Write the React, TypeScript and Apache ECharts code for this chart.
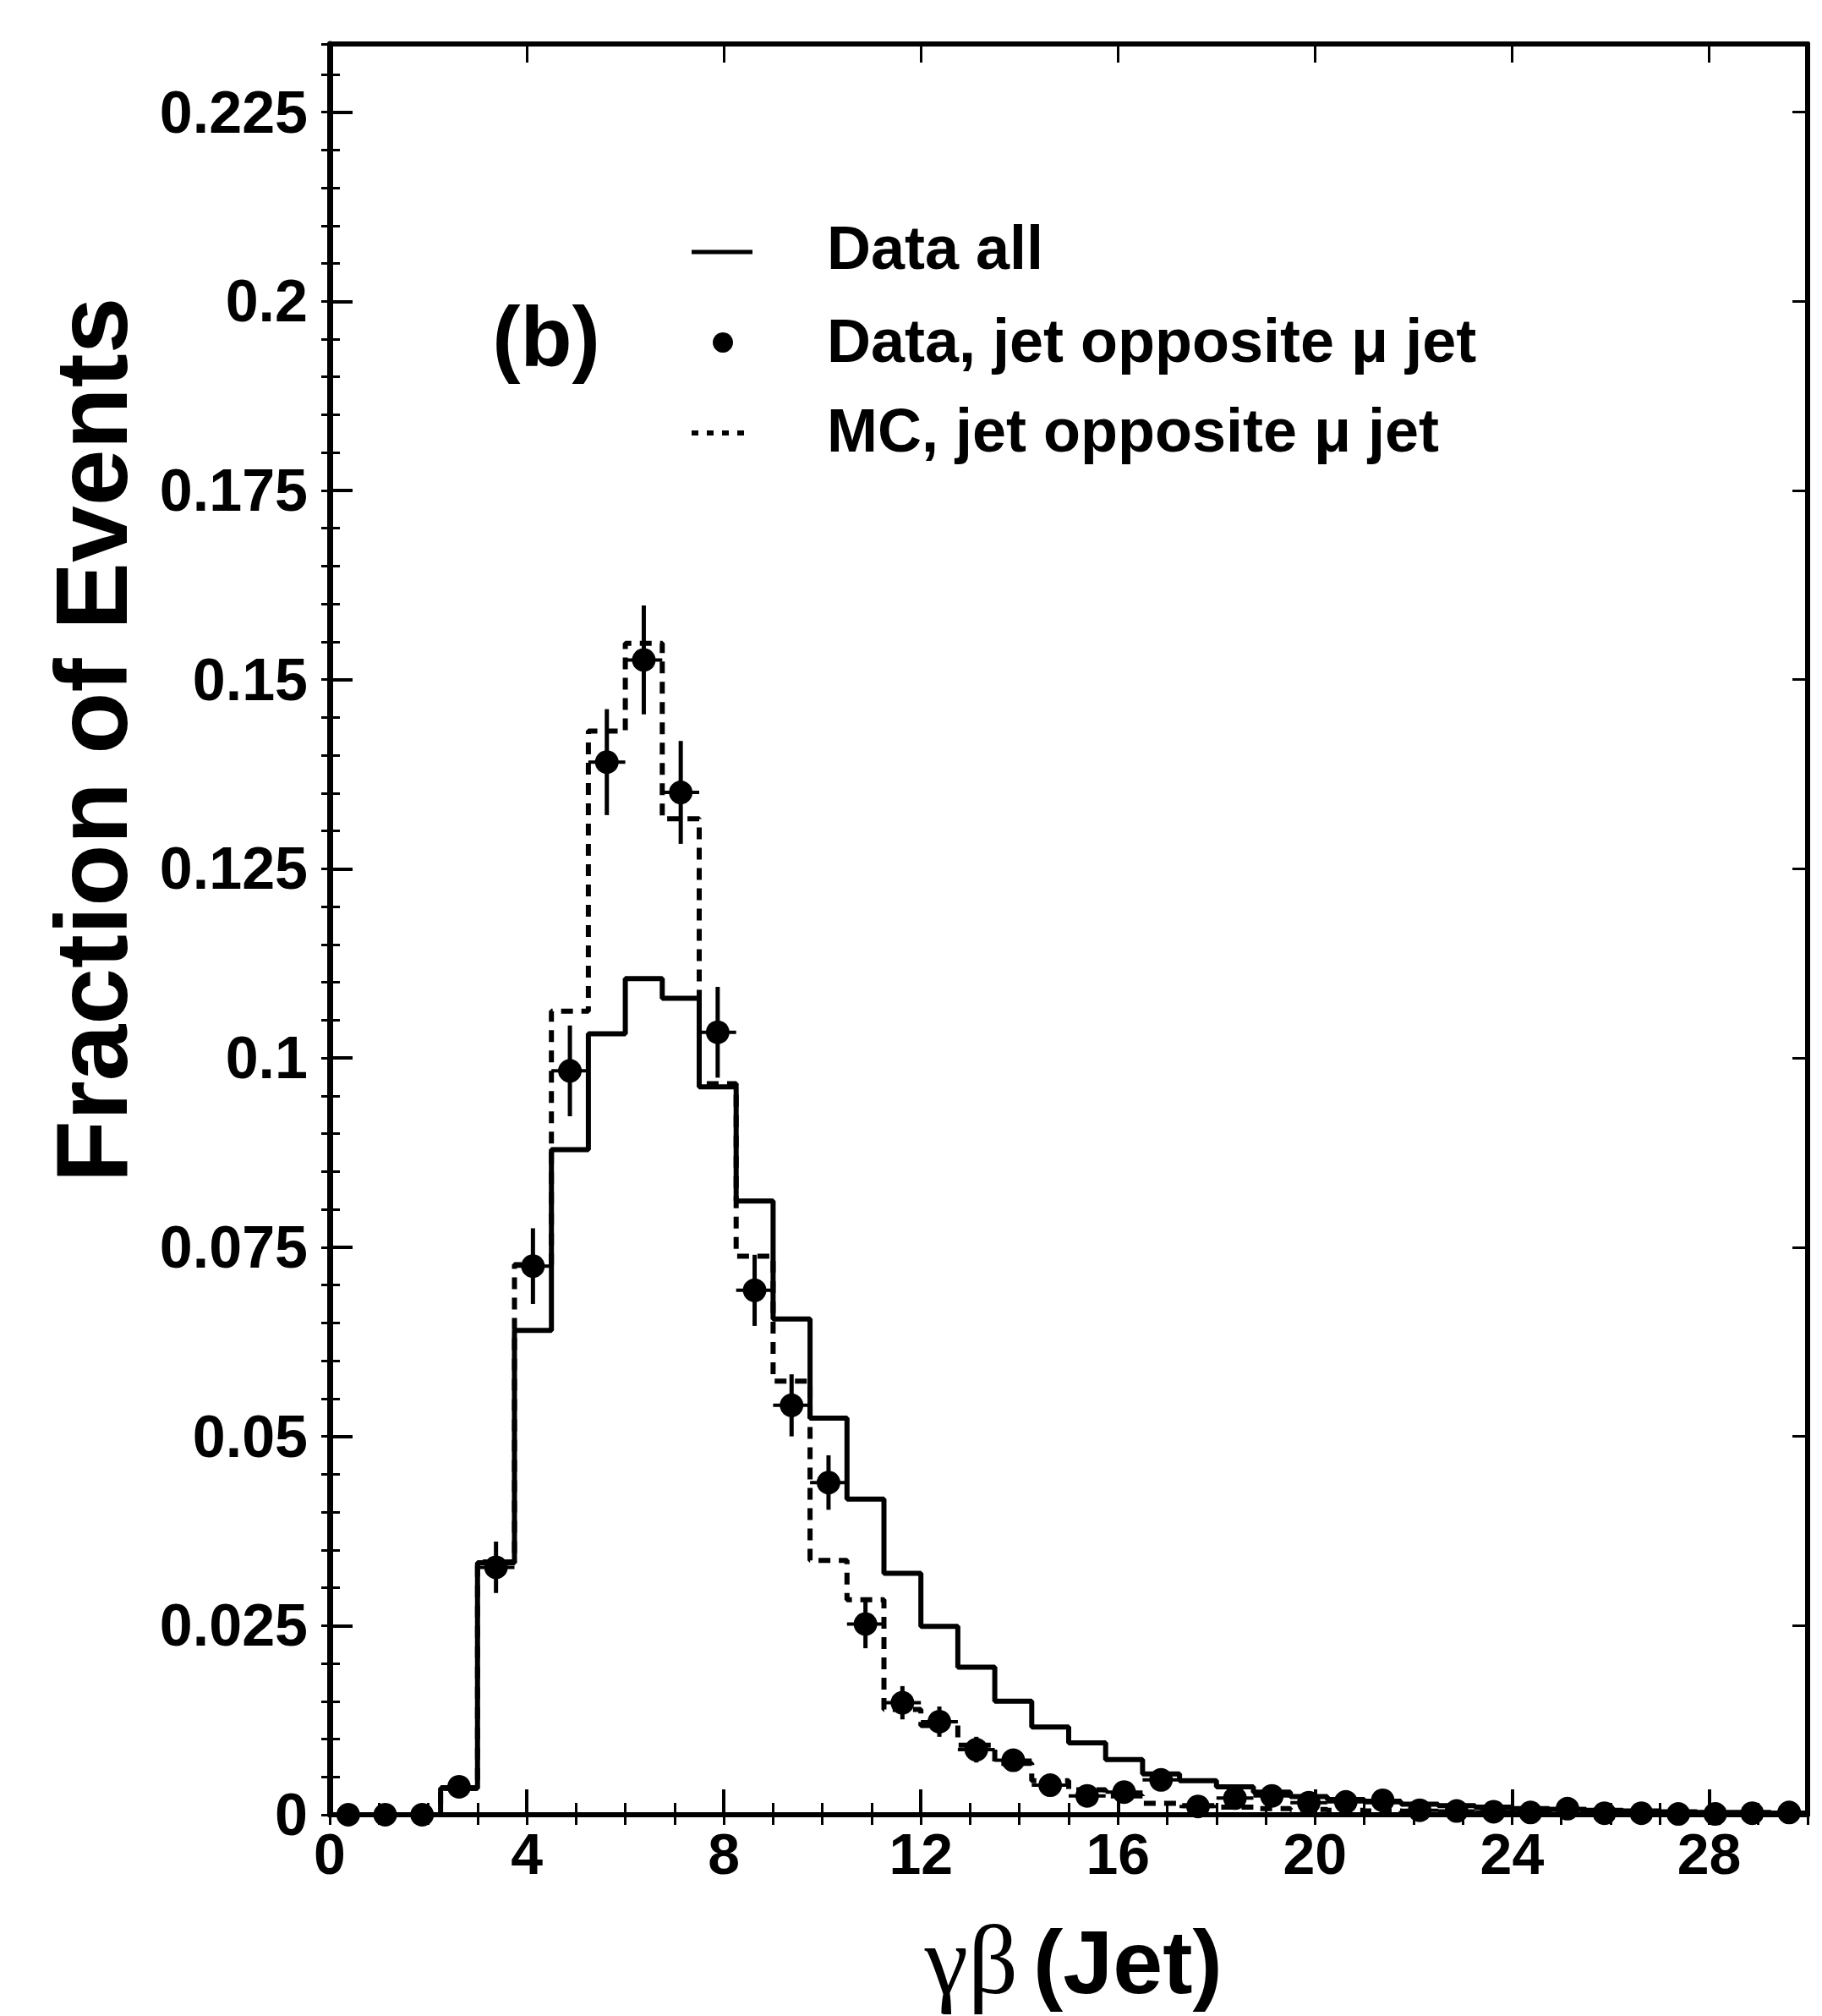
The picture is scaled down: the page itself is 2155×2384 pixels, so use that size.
import React, { useEffect, useRef } from "react";
import * as echarts from "echarts";

// ---- data (fraction of events per bin of width 0.75 in γβ) ----
const BIN_WIDTH = 0.75;
const X_MIN = 0;
const X_MAX = 30;
const Y_MIN = 0;
const Y_MAX = 0.234;
const X_MAJOR = 4;
const X_MINOR = 1;
const Y_MAJOR = 0.025;
const Y_MINOR = 0.005;

// solid histogram: Data all
const DATA_ALL = [
  0, 0, 0, 0.0035, 0.0333, 0.064, 0.0879, 0.1032, 0.1105, 0.1079,
  0.0962, 0.0811, 0.0655, 0.0524, 0.0417, 0.0319, 0.0249, 0.0195, 0.015, 0.0116,
  0.0095, 0.0073, 0.0054, 0.0045, 0.0037, 0.003, 0.0024, 0.002, 0.0017, 0.0014,
  0.0012, 0.001, 0.0008, 0.0007, 0.0006, 0.0005, 0.0004, 0.0003, 0.0003, 0.0002,
];

// dashed histogram: MC, jet opposite mu jet
const MC_OPP = [
  0, 0, 0, 0.0035, 0.0334, 0.0727, 0.1062, 0.1432, 0.1548, 0.1316,
  0.0966, 0.0738, 0.0573, 0.0336, 0.0284, 0.0139, 0.0118, 0.0092, 0.0068, 0.0045,
  0.0033, 0.0025, 0.0015, 0.0012, 0.001, 0.0008, 0.0007, 0.0006, 0.0005, 0.0004,
  0.0003, 0.0003, 0.0002, 0.0002, 0.0002, 0.0001, 0.0001, 0.0001, 0.0001, 0.0001,
];

// points: Data, jet opposite mu jet
const DATA_OPP = [
  0, 0, 0, 0.0037, 0.0327, 0.0725, 0.0983, 0.1391, 0.1526, 0.1351,
  0.1034, 0.0693, 0.0541, 0.0439, 0.0252, 0.0148, 0.0123, 0.0086, 0.0072, 0.0039,
  0.0025, 0.003, 0.0046, 0.0011, 0.0022, 0.0025, 0.0016, 0.0017, 0.0019, 0.0006,
  0.0005, 0.0004, 0.0003, 0.0008, 0.0002, 0.0002, 0.0001, 0.0001, 0.0002, 0.0003,
];
const DATA_OPP_ERR = [
  0, 0, 0, 0.001, 0.0034, 0.005, 0.006, 0.007, 0.0072, 0.0068,
  0.006, 0.0047, 0.0041, 0.0036, 0.0032, 0.0022, 0.002, 0.0017, 0.0015, 0.0011,
  0.0009, 0.001, 0.0012, 0.0006, 0.0008, 0.0009, 0.0007, 0.0007, 0.0008, 0.0004,
  0.0004, 0.0003, 0.0003, 0.0005, 0.0002, 0.0002, 0.0002, 0.0002, 0.0002, 0.0003,
];

const LEGEND_LABELS = ["Data all", "Data, jet opposite \u03bc jet", "MC, jet opposite \u03bc jet"];
const PANEL_LABEL = "(b)";
const Y_TITLE = "Fraction of Events";
const X_TITLE_GREEK = "\u03b3\u03b2";
const X_TITLE_REST = "(Jet)";

const SANS = '"Liberation Sans", Arial, Helvetica, sans-serif';
const SERIF = '"Liberation Serif", "DejaVu Serif", serif';

function histPoints(values: number[]) {
  const pts = values.map((v, i) => [i * BIN_WIDTH, v]);
  pts.push([values.length * BIN_WIDTH, values[values.length - 1]]);
  return pts;
}

function fmtY(v: number) {
  const k = Math.round(v / Y_MAJOR);
  if (Math.abs(v - k * Y_MAJOR) > 1e-9) return "";
  return String(Number((k * Y_MAJOR).toFixed(3)));
}

export default function App() {
  const ref = useRef<HTMLDivElement>(null);
  useEffect(() => {
    if (!ref.current) return;
    const chart = echarts.init(ref.current, undefined, { renderer: "svg" });
    const black = "#000";
    const baseX = { type: "value", min: X_MIN, max: X_MAX, splitLine: { show: false } };
    const baseY = { type: "value", min: Y_MIN, max: Y_MAX, splitLine: { show: false } };

    const option: any = {
      animation: false,
      backgroundColor: "#fff",
      grid: { left: 390, right: 17, top: 52, bottom: 238, containLabel: false },
      xAxis: [
        {
          ...baseX,
          interval: X_MAJOR,
          position: "bottom",
          axisLine: { show: true, onZero: false, lineStyle: { color: black, width: 6 } },
          axisTick: { show: true, inside: true, length: 30, lineStyle: { color: black, width: 4 } },
          axisLabel: {
            show: true,
            margin: 12,
            color: black,
            fontSize: 68,
            fontWeight: "bold",
            fontFamily: SANS,
            showMaxLabel: false,
            formatter: (v: number) => String(Math.round(v)),
          },
        },
        {
          ...baseX,
          interval: X_MINOR,
          position: "bottom",
          axisLine: { show: false },
          axisTick: { show: true, inside: true, length: 14, lineStyle: { color: black, width: 3 } },
          axisLabel: { show: false },
        },
        {
          ...baseX,
          interval: X_MAJOR,
          position: "top",
          axisLine: { show: true, onZero: false, lineStyle: { color: black, width: 6 } },
          axisTick: { show: true, inside: true, length: 22, lineStyle: { color: black, width: 3 } },
          axisLabel: { show: false },
        },
        {
          ...baseX,
          interval: X_MINOR,
          position: "top",
          axisLine: { show: false },
          axisTick: { show: true, inside: true, length: 12, lineStyle: { color: black, width: 3 } },
          axisLabel: { show: false },
        },
      ],
      yAxis: [
        {
          ...baseY,
          interval: Y_MAJOR,
          position: "left",
          axisLine: { show: true, onZero: false, lineStyle: { color: black, width: 7 } },
          axisTick: { show: true, inside: true, length: 27, lineStyle: { color: black, width: 4 } },
          axisLabel: {
            show: true,
            margin: 26,
            color: black,
            fontSize: 70,
            fontWeight: "bold",
            fontFamily: SANS,
            showMaxLabel: false,
            formatter: fmtY,
          },
        },
        {
          ...baseY,
          interval: Y_MINOR,
          position: "left",
          axisLine: { show: false },
          axisTick: { show: true, inside: true, length: 12, lineStyle: { color: black, width: 3 } },
          axisLabel: { show: false },
        },
        {
          ...baseY,
          interval: Y_MAJOR,
          position: "right",
          axisLine: { show: true, onZero: false, lineStyle: { color: black, width: 6 } },
          axisTick: { show: true, inside: true, length: 18, lineStyle: { color: black, width: 3 } },
          axisLabel: { show: false },
        },
        {
          ...baseY,
          interval: Y_MINOR,
          position: "right",
          axisLine: { show: false },
          axisTick: { show: true, inside: true, length: 10, lineStyle: { color: black, width: 3 } },
          axisLabel: { show: false },
        },
      ],
      series: [
        {
          name: "Data all",
          type: "line",
          xAxisIndex: 0,
          yAxisIndex: 0,
          step: "end",
          symbol: "none",
          data: histPoints(DATA_ALL),
          lineStyle: { color: black, width: 6 },
          z: 3,
        },
        {
          name: "MC, jet opposite mu jet",
          type: "line",
          xAxisIndex: 0,
          yAxisIndex: 0,
          step: "end",
          symbol: "none",
          data: histPoints(MC_OPP),
          lineStyle: { color: black, width: 6, type: [14, 10] },
          z: 3,
        },
        {
          name: "errors",
          type: "custom",
          xAxisIndex: 0,
          yAxisIndex: 0,
          data: DATA_OPP.map((v, i) => [(i + 0.5) * BIN_WIDTH, v, DATA_OPP_ERR[i]]),
          renderItem: (params: any, api: any) => {
            const x = api.value(0);
            const y = api.value(1);
            const e = api.value(2);
            const top = api.coord([x, y + e]);
            const bot = api.coord([x, Math.max(0, y - e)]);
            const l = api.coord([x - BIN_WIDTH / 2, y]);
            const r = api.coord([x + BIN_WIDTH / 2, y]);
            return {
              type: "group",
              children: [
                { type: "line", shape: { x1: top[0], y1: top[1], x2: bot[0], y2: bot[1] }, style: { stroke: black, lineWidth: 5 } },
                { type: "line", shape: { x1: l[0], y1: l[1], x2: r[0], y2: r[1] }, style: { stroke: black, lineWidth: 4 } },
              ],
            };
          },
          z: 4,
        },
        {
          name: "Data, jet opposite mu jet",
          type: "scatter",
          xAxisIndex: 0,
          yAxisIndex: 0,
          symbol: "circle",
          symbolSize: 28,
          data: DATA_OPP.map((v, i) => [(i + 0.5) * BIN_WIDTH, v]),
          itemStyle: { color: black, opacity: 1 },
          z: 5,
        },
      ],
      graphic: [
        {
          type: "text",
          x: 108,
          y: 875,
          rotation: Math.PI / 2,
          style: { text: Y_TITLE, font: `bold 120px ${SANS}`, fill: black, align: "center", verticalAlign: "middle" },
        },
        {
          type: "text",
          x: 1204,
          y: 2318,
          style: { text: X_TITLE_GREEK, font: `116px ${SERIF}`, fill: black, align: "right", verticalAlign: "middle" },
        },
        {
          type: "text",
          x: 1222,
          y: 2320,
          style: { text: X_TITLE_REST, font: `bold 106px ${SANS}`, fill: black, align: "left", verticalAlign: "middle" },
        },
        {
          type: "text",
          x: 646,
          y: 398,
          style: { text: PANEL_LABEL, font: `bold 100px ${SANS}`, fill: black, align: "center", verticalAlign: "middle" },
        },
        // legend
        { type: "line", shape: { x1: 818, y1: 298, x2: 890, y2: 298 }, style: { stroke: black, lineWidth: 5 } },
        { type: "circle", shape: { cx: 855, cy: 405, r: 12 }, style: { fill: black } },
        { type: "line", shape: { x1: 818, y1: 512, x2: 890, y2: 512 }, style: { stroke: black, lineWidth: 6, lineDash: [8, 10] } },
        {
          type: "text",
          x: 978,
          y: 293,
          style: { text: LEGEND_LABELS[0], font: `bold 72px ${SANS}`, fill: black, align: "left", verticalAlign: "middle" },
        },
        {
          type: "text",
          x: 978,
          y: 403,
          style: { text: LEGEND_LABELS[1], font: `bold 72px ${SANS}`, fill: black, align: "left", verticalAlign: "middle" },
        },
        {
          type: "text",
          x: 978,
          y: 509,
          style: { text: LEGEND_LABELS[2], font: `bold 72px ${SANS}`, fill: black, align: "left", verticalAlign: "middle" },
        },
      ],
    };
    chart.setOption(option);
    return () => chart.dispose();
  }, []);
  return (
    <div
      ref={ref}
      style={{ position: "absolute", left: 0, top: 0, width: 2155, height: 2384, background: "#fff" }}
    />
  );
}
